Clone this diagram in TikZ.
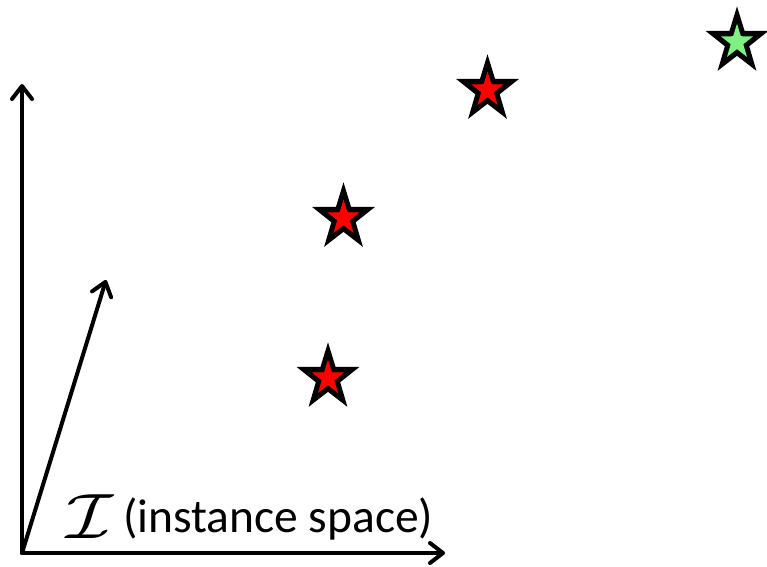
\documentclass[tikz,border=0pt]{standalone}
\usepackage{fontspec}
\setmainfont{Carlito}
\usetikzlibrary{arrows.meta}
\definecolor{starred}{RGB}{255,0,0}
\definecolor{stargreen}{RGB}{128,240,128}
\tikzset{
  axis/.style={line width=4pt, -{Straight Barb[length=13pt,width=20pt,line cap=round,line join=round]}, line cap=round},
}
\newcommand{\drawstar}[4]{%
  \begin{scope}[shift={#1}, yscale=1.08]
    \fill[black] plot[samples at={0,...,9}, variable=\k] ({-90+36*\k}:{ifthenelse(mod(\k,2)==0,33,12.8)}) -- cycle;
    \fill[#4] plot[samples at={0,...,9}, variable=\k] ({-90+36*\k}:{ifthenelse(mod(\k,2)==0,#2,#3)}) -- cycle;
  \end{scope}}
\begin{document}
\begin{tikzpicture}[x=1pt,y=-1pt]
\useasboundingbox (0,0) rectangle (767,566);
\coordinate (o) at (22,553);
\coordinate (ytip) at (22,84);
\coordinate (xtip) at (445,553);
\coordinate (dtip) at (106,280);
\draw[axis] (o) -- (ytip);
\draw[axis] (o) -- (xtip);
\draw[axis] (o) -- (dtip);
\node[anchor=base west, inner sep=0, font=\fontsize{47.5}{56}\selectfont] (lbl) at (123,532) {(instance space)};
\node[anchor=south west, inner sep=0] (cal) at (66,539) {\scalebox{7.6}[6.4]{$\mathcal{I}$}};
\drawstar{(487.5,90)}{17}{6.6}{starred}
\drawstar{(343.5,218)}{17}{6.6}{starred}
\drawstar{(328,378)}{17}{6.6}{starred}
\drawstar{(737,42)}{17}{6.6}{stargreen}
\end{tikzpicture}
\end{document}
